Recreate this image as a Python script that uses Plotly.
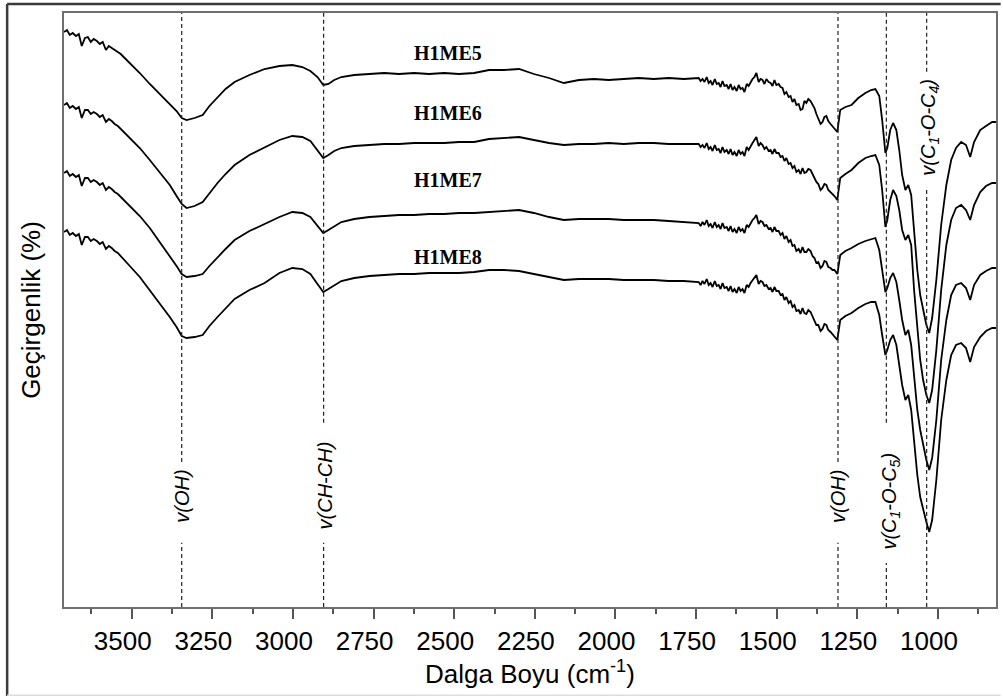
import plotly.graph_objects as go

# Wavenumber grid shared by the four spectra (cm^-1)
wavenumber = [
    # O-H stretching shoulder, noisy high-wavenumber end
    3710, 3701, 3692, 3683, 3673, 3664, 3655, 3645, 3636, 3627, 3618, 3608, 3599, 3590, 3580,
    3571, 3562, 3553, 3543, 3534, 3525,
    # broad O-H and C-H bands
    3506, 3475, 3444, 3413, 3382, 3361, 3345, 3330, 3305, 3280, 3259, 3234, 3209, 3181, 3135,
    3088, 3042, 3002, 2971, 2946, 2924, 2906, 2890, 2872, 2850,
    # flat region
    2810, 2763, 2717, 2671, 2624, 2578, 2531, 2485, 2438, 2392, 2346, 2299, 2253, 2206, 2160,
    2113, 2067, 2021, 1974, 1928, 1881, 1835, 1788,
    # noisy mid-infrared region
    1742, 1736, 1730, 1724, 1717, 1711, 1705, 1699, 1692, 1686, 1680, 1674, 1668, 1662, 1655,
    1649, 1643, 1637, 1631, 1624, 1618, 1612, 1606, 1600, 1593, 1587, 1581, 1575, 1569, 1563,
    1556, 1550, 1544, 1538, 1532, 1525, 1519, 1513, 1507, 1501, 1494, 1488, 1482, 1476, 1470,
    1463, 1457, 1451, 1445, 1439, 1432, 1426, 1420, 1414, 1408, 1402, 1395, 1389, 1383, 1377,
    1371, 1364, 1358, 1352, 1346, 1340, 1333, 1327, 1321, 1312,
    # fingerprint region
    1303, 1287, 1268, 1247, 1225, 1207, 1194, 1182, 1173, 1163, 1157, 1148, 1139, 1129, 1120,
    1111, 1101, 1092, 1083, 1074, 1064, 1055, 1046, 1036, 1027, 1018, 1005, 990, 974, 959,
    944, 928, 913, 900, 888, 869, 851, 832, 820,
]

# Stacked transmittance (arbitrary units, each spectrum offset vertically)
h1me5 = [
    568, 570, 565, 567, 564, 566, 554, 562, 563, 558, 561, 559, 556, 558, 550, 554, 552, 550, 548, 546, 543,
    537, 527, 516, 506, 496, 489, 482, 480, 482, 485, 494, 503, 511, 518, 525, 531, 534, 535, 533, 529,
    523, 515, 516, 520, 523,
    525, 526, 527, 526, 527, 526, 527, 526, 527, 530, 530, 531, 526, 522, 517, 520, 521, 520, 521, 522,
    521, 522, 521,
    522, 519, 521, 518, 523, 517, 519, 515, 521, 516, 517, 513, 519, 514, 515, 511, 516, 510, 513, 509,
    515, 511, 512, 508, 516, 514, 518, 521, 523, 527, 518, 521, 520, 516, 521, 518, 517, 514, 520, 515,
    516, 513, 512, 506, 508, 503, 504, 498, 501, 495, 496, 490, 491, 499, 497, 501, 499, 495, 492, 486,
    482, 476, 478, 483, 484, 479, 476, 474, 472, 468,
    490, 493, 495, 502, 507, 510, 511, 504, 480, 447, 452, 470, 477, 470, 450, 425, 410, 415, 405, 365,
    330, 305, 290, 275, 267, 282, 320, 375, 415, 440, 452, 458, 455, 443, 458, 470, 474, 478, 478,
]
h1me6 = [
    495, 497, 492, 494, 491, 493, 482, 490, 490, 486, 488, 486, 483, 485, 478, 481, 479, 476, 474, 471, 468,
    462, 452, 440, 428, 415, 404, 396, 392, 394, 398, 407, 417, 426, 435, 445, 453, 460, 464, 463, 459,
    450, 442, 445, 449, 452,
    454, 455, 456, 456, 457, 457, 457, 458, 458, 461, 462, 463, 460, 457, 455, 456, 456, 457, 456, 457,
    457, 456, 456,
    456, 453, 455, 452, 457, 451, 453, 449, 455, 450, 451, 447, 453, 448, 450, 446, 451, 445, 448, 444,
    450, 446, 448, 444, 453, 450, 454, 457, 460, 463, 454, 457, 455, 451, 453, 449, 450, 446, 451, 447,
    447, 443, 444, 439, 442, 436, 437, 432, 434, 428, 430, 426, 432, 427, 428, 431, 430, 425, 422, 418,
    416, 410, 412, 416, 415, 410, 408, 406, 404, 400,
    422, 426, 430, 437, 442, 444, 445, 435, 410, 373, 380, 400, 410, 404, 390, 370, 360, 365, 355, 310,
    270, 240, 220, 205, 197, 210, 250, 310, 355, 380, 392, 395, 390, 380, 395, 408, 414, 417, 417,
]
h1me7 = [
    427, 429, 424, 426, 423, 425, 414, 422, 422, 418, 420, 418, 415, 417, 410, 413, 411, 408, 406, 403, 400,
    394, 384, 372, 358, 344, 334, 326, 323, 324, 326, 334, 342, 351, 360, 369, 376, 383, 388, 387, 383,
    374, 367, 370, 374, 378,
    381, 383, 384, 385, 385, 386, 386, 387, 387, 388, 389, 390, 387, 383, 380, 381, 381, 381, 380, 380,
    380, 379, 378,
    377, 374, 378, 375, 380, 374, 376, 372, 378, 373, 375, 371, 377, 372, 373, 369, 374, 368, 371, 367,
    373, 369, 371, 367, 375, 373, 377, 380, 382, 385, 376, 379, 378, 374, 375, 371, 372, 368, 373, 369,
    369, 365, 367, 361, 364, 358, 360, 354, 355, 349, 351, 347, 353, 348, 348, 351, 349, 344, 342, 337,
    338, 332, 334, 339, 338, 333, 332, 330, 330, 326,
    345, 349, 352, 356, 359, 361, 362, 350, 330, 308, 312, 322, 327, 318, 300, 280, 265, 270, 255, 220,
    190, 170, 155, 140, 130, 142, 180, 240, 280, 305, 315, 317, 312, 300, 315, 325, 329, 332, 332,
]
h1me8 = [
    368, 370, 365, 367, 364, 366, 355, 363, 363, 359, 361, 359, 356, 358, 351, 354, 352, 349, 347, 344, 341,
    334, 323, 310, 297, 283, 273, 264, 262, 263, 265, 274, 283, 292, 301, 310, 317, 327, 332, 331, 326,
    316, 308, 311, 315, 319,
    322, 324, 325, 326, 326, 327, 327, 327, 328, 330, 330, 329, 326, 323, 320, 321, 321, 321, 320, 320,
    320, 319, 319,
    318, 315, 319, 316, 321, 315, 317, 313, 319, 314, 315, 311, 317, 312, 313, 309, 314, 308, 311, 307,
    313, 309, 311, 307, 315, 313, 317, 320, 322, 325, 316, 319, 318, 314, 315, 311, 312, 308, 313, 309,
    309, 305, 306, 300, 303, 297, 299, 293, 295, 289, 290, 286, 292, 287, 286, 290, 288, 283, 280, 275,
    275, 269, 271, 276, 275, 270, 268, 266, 264, 260,
    280, 284, 287, 292, 296, 298, 298, 285, 265, 245, 250, 260, 265, 255, 235, 215, 200, 205, 190, 155,
    125, 103, 90, 78, 68, 80, 120, 180, 220, 245, 255, 257, 252, 238, 253, 263, 269, 272, 272,
]

series_names = ["H1ME5", "H1ME6", "H1ME7", "H1ME8"]
series_values = [h1me5, h1me6, h1me7, h1me8]
for vals in series_values:
    assert len(vals) == len(wavenumber)

label_wavenumber = 2519
label_levels = [547, 487, 420, 343]

# Band assignments: position, label, and where the dashed marker is interrupted (paper y)
band_positions = [3345, 2905, 1310, 1160, 1035]
band_labels = [
    "<i>v(OH)</i>",
    "<i>v(CH-CH)</i>",
    "<i>v(OH)</i>",
    "<i>v(C<sub>1</sub>-O-C<sub>5</sub>)</i>",
    "<i>v(C<sub>1</sub>-O-C<sub>4</sub>)</i>",
]
band_gaps = [(0.108, 0.244), (0.108, 0.310), (0.108, 0.244), (0.074, 0.310), (0.702, 0.901)]
band_label_y = [0.187, 0.204, 0.187, 0.178, 0.808]
band_label_xshift = [0, 1, 0, 4, 2]

major_ticks = [3500, 3250, 3000, 2750, 2500, 2250, 2000, 1750, 1500, 1250, 1000]
minor_ticks = [3625, 3375, 3125, 2875, 2625, 2375, 2125, 1875, 1625, 1375, 1125, 875]

fig = go.Figure()
for name, vals in zip(series_names, series_values):
    fig.add_trace(go.Scatter(
        x=wavenumber, y=vals, mode="lines", name=name,
        line=dict(color="black", width=1.8), showlegend=False,
    ))

for name, lvl in zip(series_names, label_levels):
    fig.add_annotation(
        x=label_wavenumber, y=lvl, xref="x", yref="y", text="<b>" + name + "</b>",
        showarrow=False, font=dict(family="Liberation Serif", size=20, color="black"),
    )

for pos, (g0, g1) in zip(band_positions, band_gaps):
    for y0, y1 in ((0, g0), (g1, 1)):
        fig.add_shape(
            type="line", xref="x", yref="paper", x0=pos, x1=pos, y0=y0, y1=y1,
            line=dict(color="#222", width=1.2, dash="4px,3px"),
        )

for pos, txt, ly, xs in zip(band_positions, band_labels, band_label_y, band_label_xshift):
    fig.add_annotation(
        x=pos, y=ly, xref="x", yref="paper", text=txt, textangle=-90, xshift=xs,
        xanchor="center", yanchor="middle",
        showarrow=False, font=dict(family="Liberation Sans", size=20, color="black"),
    )

# outer frame around the figure
frame = dict(color="#3a3a3a", width=2.5)
fig.add_shape(type="line", xref="paper", yref="paper", x0=-0.061, x1=1.005, y0=1.0152, y1=1.0152, line=frame)
fig.add_shape(type="line", xref="paper", yref="paper", x0=-0.061, x1=-0.061, y0=1.0152, y1=-0.16, line=frame)
fig.add_shape(type="line", xref="paper", yref="paper", x0=-0.061, x1=1.005, y0=-0.1485, y1=-0.1485,
              line=dict(color="#dddddd", width=1.5))

fig.update_layout(
    width=1003, height=696,
    margin=dict(l=64, r=5, t=13, b=89),
    paper_bgcolor="white", plot_bgcolor="white",
    font=dict(family="Liberation Sans", color="black"),
    xaxis=dict(
        range=[3710, 820], tickmode="array", tickvals=major_ticks,
        ticks="outside", ticklen=10, tickwidth=1.5, tickcolor="#555",
        tickfont=dict(size=26), ticklabelshift=9,
        minor=dict(tickmode="array", tickvals=minor_ticks, ticks="outside", ticklen=5, tickwidth=1.5, tickcolor="#555"),
        showline=True, linecolor="#6e6e6e", linewidth=2, mirror=True, showgrid=False, zeroline=False,
        title=dict(text="Dalga Boyu (cm<sup>-1</sup>)", font=dict(size=26), standoff=8),
    ),
    yaxis=dict(
        range=[-7, 587], showticklabels=False, ticks="",
        showline=True, linecolor="#6e6e6e", linewidth=2, mirror=True, showgrid=False, zeroline=False,
        title=dict(text="Geçirgenlik (%)", font=dict(size=26), standoff=14),
    ),
)

fig.write_html("out.html")
